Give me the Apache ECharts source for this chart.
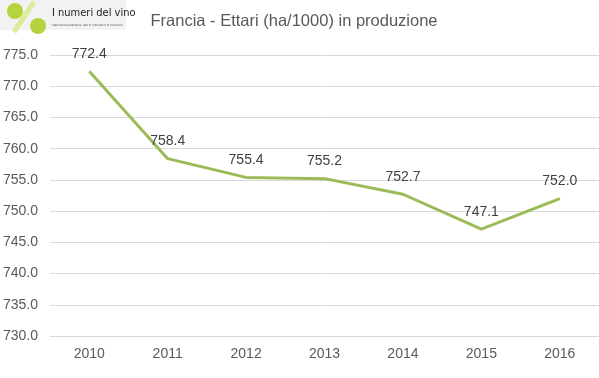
<!DOCTYPE html>
<html><head><meta charset="utf-8">
<script src="https://cdn.jsdelivr.net/npm/echarts@6/dist/echarts.min.js"></script>
<style>html,body{margin:0;padding:0;background:#fff}#c{width:599px;height:378px}</style>
</head><body><div id="c"></div>
<script>
var categories = ['2010','2011','2012','2013','2014','2015','2016'];
var values = [772.4, 758.4, 755.4, 755.2, 752.7, 747.1, 752.0];
var titleText = 'Francia - Ettari (ha/1000) in produzione';
var chart = echarts.init(document.getElementById('c'));
chart.setOption({
  animation: false,
  title: {text: titleText, left: 289, top: 8, textAlign: 'center',
    textStyle: {fontFamily: 'Liberation Sans', fontSize: 16.5, fontWeight: 'normal', color: '#595959'}},
  graphic: [
    {type: 'rect', shape: {x: 0, y: 0, width: 126, height: 30}, style: {fill: '#f2f2f2'}, z: 0},
    {type: 'line', shape: {x1: 14, y1: 32, x2: 34, y2: 2}, style: {stroke: '#dcec9a', lineWidth: 5}},
    {type: 'circle', shape: {cx: 15, cy: 11, r: 8}, style: {fill: '#b5d33d'}},
    {type: 'circle', shape: {cx: 38, cy: 26, r: 8}, style: {fill: '#b5d33d'}},
    {type: 'text', left: 52, top: 8, style: {text: 'I numeri del vino', fontFamily: 'DejaVu Sans Condensed', fontSize: 11, fill: '#222'}},
    {type: 'text', left: 52, top: 24, style: {text: 'Statistiche produttive, dati di mercato e di consumo,', fontFamily: 'DejaVu Sans Condensed', fontSize: 3, fill: '#555'}}
  ],
  grid: {left: 50, right: 0, top: 55, bottom: 42, containLabel: false},
  xAxis: {type: 'category', data: categories, boundaryGap: true,
    axisLine: {lineStyle: {color: '#d9d9d9', width: 1}}, axisTick: {show: false},
    axisLabel: {fontFamily: 'Liberation Sans', fontSize: 14, color: '#595959', margin: 11}},
  yAxis: {type: 'value', min: 730, max: 775, interval: 5,
    axisLine: {show: false}, axisTick: {show: false},
    splitLine: {lineStyle: {color: '#d9d9d9', width: 1}},
    axisLabel: {fontFamily: 'Liberation Sans', fontSize: 14, color: '#595959', margin: 12,
      formatter: function (v) { return v.toFixed(1); }}},
  series: [{type: 'line', data: values, symbol: 'circle', symbolSize: 1, showSymbol: true,
    itemStyle: {color: 'rgba(155,187,89,0)', borderWidth: 0},
    lineStyle: {color: '#9bbb59', width: 3},
    label: {show: true, position: 'top', distance: 10, fontFamily: 'Liberation Sans', fontSize: 14, color: '#404040',
      formatter: function (p) { return p.value.toFixed(1); }}}]
});
</script></body></html>
